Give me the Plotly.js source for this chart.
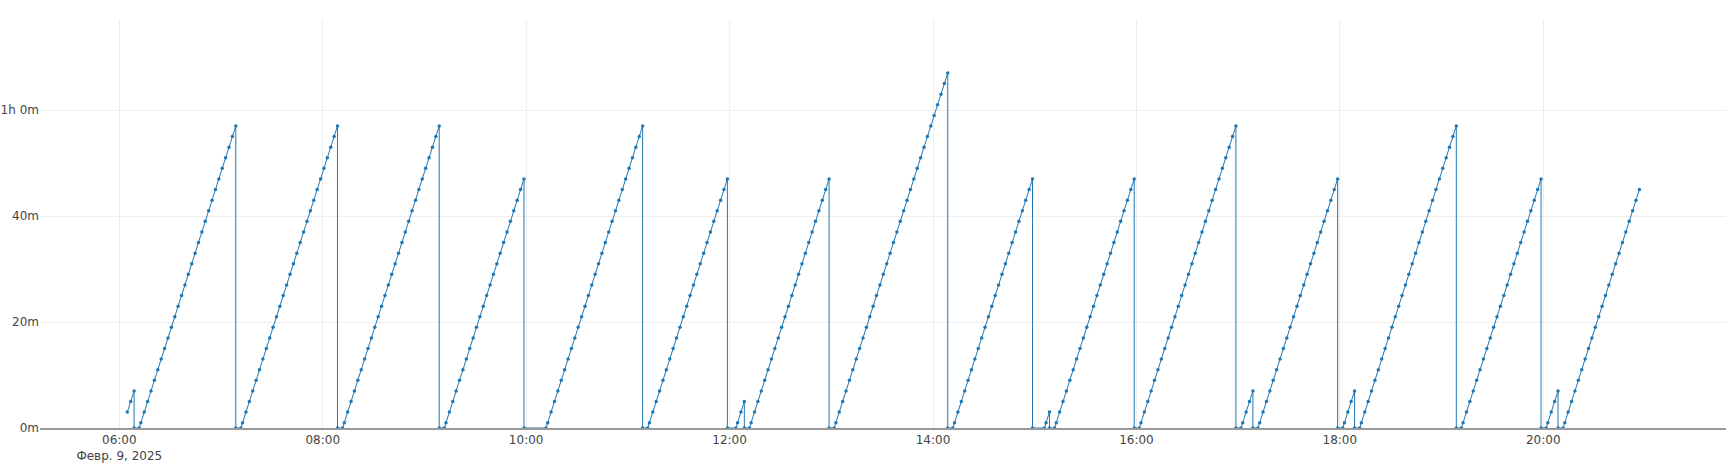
<!DOCTYPE html>
<html>
<head>
<meta charset="utf-8">
<script src="https://cdn.plot.ly/plotly-3.0.1.min.js"></script>
<style>html,body{margin:0;padding:0;background:#fff;}#chart{width:1726px;height:469px;}</style>
</head>
<body>
<div id="chart"></div>
<script>
// Day of the readings
const day = "2025-02-09";

// Reading times (HH:MM, all at :42 seconds) — one line per ramp
const times = [
  "06:04","06:06","06:08","06:08","06:11",
  "06:12","06:14","06:16","06:18","06:20","06:22","06:24","06:26","06:28","06:30","06:32","06:34","06:36","06:38","06:40","06:42","06:44","06:46","06:48","06:50","06:52","06:54","06:56","06:58","07:00","07:02","07:04","07:06","07:08","07:08","07:11",
  "07:12","07:14","07:16","07:18","07:20","07:22","07:24","07:26","07:28","07:30","07:32","07:34","07:36","07:38","07:40","07:42","07:44","07:46","07:48","07:50","07:52","07:54","07:56","07:58","08:00","08:02","08:04","08:06","08:08","08:08","08:11",
  "08:12","08:14","08:16","08:18","08:20","08:22","08:24","08:26","08:28","08:30","08:32","08:34","08:36","08:38","08:40","08:42","08:44","08:46","08:48","08:50","08:52","08:54","08:56","08:58","09:00","09:02","09:04","09:06","09:08","09:08","09:11",
  "09:12","09:14","09:16","09:18","09:20","09:22","09:24","09:26","09:28","09:30","09:32","09:34","09:36","09:38","09:40","09:42","09:44","09:46","09:48","09:50","09:52","09:54","09:56","09:58","09:58","10:11",
  "10:12","10:14","10:16","10:18","10:20","10:22","10:24","10:26","10:28","10:30","10:32","10:34","10:36","10:38","10:40","10:42","10:44","10:46","10:48","10:50","10:52","10:54","10:56","10:58","11:00","11:02","11:04","11:06","11:08","11:08","11:11",
  "11:12","11:14","11:16","11:18","11:20","11:22","11:24","11:26","11:28","11:30","11:32","11:34","11:36","11:38","11:40","11:42","11:44","11:46","11:48","11:50","11:52","11:54","11:56","11:58","11:58","12:03",
  "12:04","12:06","12:08","12:08","12:11",
  "12:12","12:14","12:16","12:18","12:20","12:22","12:24","12:26","12:28","12:30","12:32","12:34","12:36","12:38","12:40","12:42","12:44","12:46","12:48","12:50","12:52","12:54","12:56","12:58","12:58","13:01",
  "13:02","13:04","13:06","13:08","13:10","13:12","13:14","13:16","13:18","13:20","13:22","13:24","13:26","13:28","13:30","13:32","13:34","13:36","13:38","13:40","13:42","13:44","13:46","13:48","13:50","13:52","13:54","13:56","13:58","14:00","14:02","14:04","14:06","14:08","14:08","14:11",
  "14:12","14:14","14:16","14:18","14:20","14:22","14:24","14:26","14:28","14:30","14:32","14:34","14:36","14:38","14:40","14:42","14:44","14:46","14:48","14:50","14:52","14:54","14:56","14:58","14:58","15:05",
  "15:06","15:08","15:08","15:11",
  "15:12","15:14","15:16","15:18","15:20","15:22","15:24","15:26","15:28","15:30","15:32","15:34","15:36","15:38","15:40","15:42","15:44","15:46","15:48","15:50","15:52","15:54","15:56","15:58","15:58","16:01",
  "16:02","16:04","16:06","16:08","16:10","16:12","16:14","16:16","16:18","16:20","16:22","16:24","16:26","16:28","16:30","16:32","16:34","16:36","16:38","16:40","16:42","16:44","16:46","16:48","16:50","16:52","16:54","16:56","16:58","16:58","17:01",
  "17:02","17:04","17:06","17:08","17:08","17:11",
  "17:12","17:14","17:16","17:18","17:20","17:22","17:24","17:26","17:28","17:30","17:32","17:34","17:36","17:38","17:40","17:42","17:44","17:46","17:48","17:50","17:52","17:54","17:56","17:58","17:58","18:01",
  "18:02","18:04","18:06","18:08","18:08","18:11",
  "18:12","18:14","18:16","18:18","18:20","18:22","18:24","18:26","18:28","18:30","18:32","18:34","18:36","18:38","18:40","18:42","18:44","18:46","18:48","18:50","18:52","18:54","18:56","18:58","19:00","19:02","19:04","19:06","19:08","19:08","19:11",
  "19:12","19:14","19:16","19:18","19:20","19:22","19:24","19:26","19:28","19:30","19:32","19:34","19:36","19:38","19:40","19:42","19:44","19:46","19:48","19:50","19:52","19:54","19:56","19:58","19:58","20:01",
  "20:02","20:04","20:06","20:08","20:08","20:11",
  "20:12","20:14","20:16","20:18","20:20","20:22","20:24","20:26","20:28","20:30","20:32","20:34","20:36","20:38","20:40","20:42","20:44","20:46","20:48","20:50","20:52","20:54","20:56"
];

// Elapsed minutes at each reading — one line per ramp
const minutes = [
  3,5,7,0,0,
  1,3,5,7,9,11,13,15,17,19,21,23,25,27,29,31,33,35,37,39,41,43,45,47,49,51,53,55,57,0,0,
  1,3,5,7,9,11,13,15,17,19,21,23,25,27,29,31,33,35,37,39,41,43,45,47,49,51,53,55,57,0,0,
  1,3,5,7,9,11,13,15,17,19,21,23,25,27,29,31,33,35,37,39,41,43,45,47,49,51,53,55,57,0,0,
  1,3,5,7,9,11,13,15,17,19,21,23,25,27,29,31,33,35,37,39,41,43,45,47,0,0,
  1,3,5,7,9,11,13,15,17,19,21,23,25,27,29,31,33,35,37,39,41,43,45,47,49,51,53,55,57,0,0,
  1,3,5,7,9,11,13,15,17,19,21,23,25,27,29,31,33,35,37,39,41,43,45,47,0,0,
  1,3,5,0,0,
  1,3,5,7,9,11,13,15,17,19,21,23,25,27,29,31,33,35,37,39,41,43,45,47,0,0,
  1,3,5,7,9,11,13,15,17,19,21,23,25,27,29,31,33,35,37,39,41,43,45,47,49,51,53,55,57,59,61,63,65,67,0,0,
  1,3,5,7,9,11,13,15,17,19,21,23,25,27,29,31,33,35,37,39,41,43,45,47,0,0,
  1,3,0,0,
  1,3,5,7,9,11,13,15,17,19,21,23,25,27,29,31,33,35,37,39,41,43,45,47,0,0,
  1,3,5,7,9,11,13,15,17,19,21,23,25,27,29,31,33,35,37,39,41,43,45,47,49,51,53,55,57,0,0,
  1,3,5,7,0,0,
  1,3,5,7,9,11,13,15,17,19,21,23,25,27,29,31,33,35,37,39,41,43,45,47,0,0,
  1,3,5,7,0,0,
  1,3,5,7,9,11,13,15,17,19,21,23,25,27,29,31,33,35,37,39,41,43,45,47,49,51,53,55,57,0,0,
  1,3,5,7,9,11,13,15,17,19,21,23,25,27,29,31,33,35,37,39,41,43,45,47,0,0,
  1,3,5,7,0,0,
  1,3,5,7,9,11,13,15,17,19,21,23,25,27,29,31,33,35,37,39,41,43,45
];

// Axis ticks
const xTickTimes = ["06:00","08:00","10:00","12:00","14:00","16:00","18:00","20:00"];
const xTickText = ["06:00<br>Февр. 9, 2025","08:00","10:00","12:00","14:00","16:00","18:00","20:00"];
const yTickVals = [0, 20, 40, 60];
const yTickText = ["0m", "20m", "40m", "1h 0m"];
const xRange = ["05:13:12", "21:47:48"];
const yRange = [0, 77];

const xs = times.map(t => day + " " + t + ":42");

const trace = {
  type: "scatter",
  mode: "lines+markers",
  x: xs,
  y: minutes,
  line: {color: "#1f77b4", width: 1},
  marker: {color: "#1f77b4", size: 3.5},
  hoverinfo: "x+y"
};

const layout = {
  width: 1726,
  height: 469,
  margin: {l: 40, r: 0, t: 20, b: 41, pad: 0},
  paper_bgcolor: "#fff",
  plot_bgcolor: "#fff",
  showlegend: false,
  font: {family: '"DejaVu Sans", Verdana, sans-serif', size: 12, color: "#444"},
  xaxis: {
    type: "date",
    range: xRange.map(t => day + " " + t),
    tickmode: "array",
    tickvals: xTickTimes.map(t => day + " " + t),
    ticktext: xTickText,
    showgrid: true,
    gridcolor: "#eeeeee",
    gridwidth: 1,
    zeroline: false,
    showline: true,
    linecolor: "#999999",
    linewidth: 2,
    ticks: ""
  },
  yaxis: {
    range: yRange,
    tickmode: "array",
    tickvals: yTickVals,
    ticktext: yTickText,
    showgrid: true,
    gridcolor: "#eeeeee",
    gridwidth: 1,
    zeroline: false,
    showline: false,
    ticks: ""
  }
};

Plotly.newPlot("chart", [trace], layout, {displayModeBar: false, responsive: false});
</script>
</body>
</html>
